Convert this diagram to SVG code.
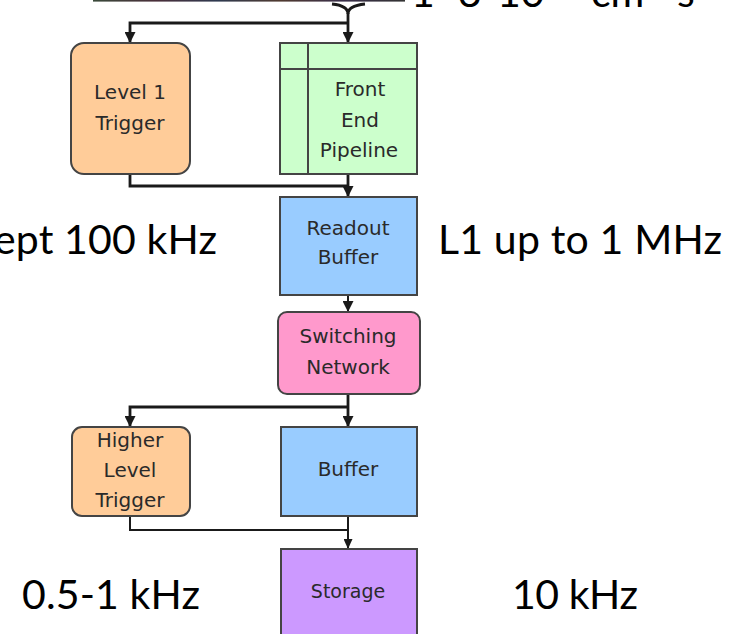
<svg xmlns="http://www.w3.org/2000/svg" width="733" height="634" viewBox="0 0 733 634">
<defs>
<style>
.box{stroke:#444;stroke-width:2}
.lbl{font-family:"DejaVu Sans",Verdana,sans-serif;font-size:20px;fill:#2a2a2a;text-anchor:middle}
.big{font-family:Lato,"Open Sans",sans-serif;font-size:41px;fill:#000}
.con{fill:none;stroke:#1a1a1a;stroke-width:2.8}
.con2{fill:none;stroke:#1a1a1a;stroke-width:2}
</style>
<linearGradient id="strip" x1="0" x2="1" y1="0" y2="0">
<stop offset="0" stop-color="#3a4a3a"/>
<stop offset="0.2" stop-color="#4a2f3a"/>
<stop offset="0.4" stop-color="#2f3a50"/>
<stop offset="0.6" stop-color="#503a30"/>
<stop offset="0.8" stop-color="#3a2f4a"/>
<stop offset="1" stop-color="#333"/>
</linearGradient>
<marker id="ah" markerUnits="userSpaceOnUse" markerWidth="11" markerHeight="11" refX="11" refY="5.5" orient="auto">
<path d="M0,0 L11,5.5 L0,11 z" fill="#1a1a1a"/>
</marker>
<marker id="ah2" markerUnits="userSpaceOnUse" markerWidth="10" markerHeight="9" refX="10" refY="4.5" orient="auto">
<path d="M0,0 L10,4.5 L0,9 z" fill="#1a1a1a"/>
</marker>
</defs>
<rect width="733" height="634" fill="#fff"/>
<rect x="93" y="0" width="312" height="1.6" fill="url(#strip)"/>
<text class="big" y="7"><tspan x="411">1</tspan><tspan x="458">3</tspan><tspan x="497">10</tspan><tspan x="591">cm</tspan><tspan x="677">s</tspan></text>

<g id="connectors">
<path class="con" d="M332,4 C342,5 348,8 348,14 M365,4 C355,5 348,8 348,14"/>
<path class="con" d="M348,13 V43" marker-end="url(#ah)"/>
<path class="con" d="M348,23 H130 V43" marker-end="url(#ah)"/>
<path class="con" d="M130,174 V186 H348"/>
<path class="con" d="M348,174 V197" marker-end="url(#ah)"/>
<path class="con2" d="M348,295 V312" marker-end="url(#ah)"/>
<path class="con" d="M348,394 V427" marker-end="url(#ah)"/>
<path class="con" d="M348,407 H130 V427" marker-end="url(#ah)"/>
<path class="con2" d="M130,516 V530 H348"/>
<path class="con2" d="M348,516 V549" marker-end="url(#ah2)"/>
</g>

<g id="level1">
<rect class="box" x="71" y="43" width="119" height="131" rx="13" fill="#FFCC99"/>
<text class="lbl" x="130" y="99">Level 1</text>
<text class="lbl" x="130" y="130">Trigger</text>
</g>
<g id="frontend">
<rect class="box" x="280" y="43" width="137" height="131" fill="#CCFFCC"/>
<path d="M308,43 V174 M280,69 H417" stroke="#444" stroke-width="2"/>
<text class="lbl" x="360" y="96">Front</text>
<text class="lbl" x="360" y="127">End</text>
<text class="lbl" x="359" y="157">Pipeline</text>
</g>
<g id="readout">
<rect class="box" x="280" y="197" width="137" height="98" fill="#99CCFF"/>
<text class="lbl" x="348" y="235">Readout</text>
<text class="lbl" x="348" y="264">Buffer</text>
</g>
<g id="switching">
<rect class="box" x="278" y="312" width="142" height="82" rx="9" fill="#FF99CC"/>
<text class="lbl" x="348" y="343">Switching</text>
<text class="lbl" x="348" y="374">Network</text>
</g>
<g id="hlt">
<rect class="box" x="72" y="427" width="118" height="89" rx="10" fill="#FFCC99"/>
<text class="lbl" x="130" y="447">Higher</text>
<text class="lbl" x="130" y="477">Level</text>
<text class="lbl" x="130" y="507">Trigger</text>
</g>
<g id="buffer">
<rect class="box" x="281" y="427" width="136" height="89" fill="#99CCFF"/>
<text class="lbl" x="348" y="476">Buffer</text>
</g>
<g id="storage">
<rect class="box" x="281" y="549" width="136" height="100" fill="#CC99FF"/>
<text class="lbl" x="348" y="598" style="font-size:19px">Storage</text>
</g>

<text class="big" x="217" y="254" text-anchor="end" textLength="223" lengthAdjust="spacing">ept 100 kHz</text>
<text class="big" x="438" y="254" textLength="284" lengthAdjust="spacing">L1 up to 1 MHz</text>
<text class="big" x="22" y="609" textLength="178" lengthAdjust="spacing">0.5-1 kHz</text>
<text class="big" x="512" y="609" textLength="126" lengthAdjust="spacing">10 kHz</text>
</svg>
